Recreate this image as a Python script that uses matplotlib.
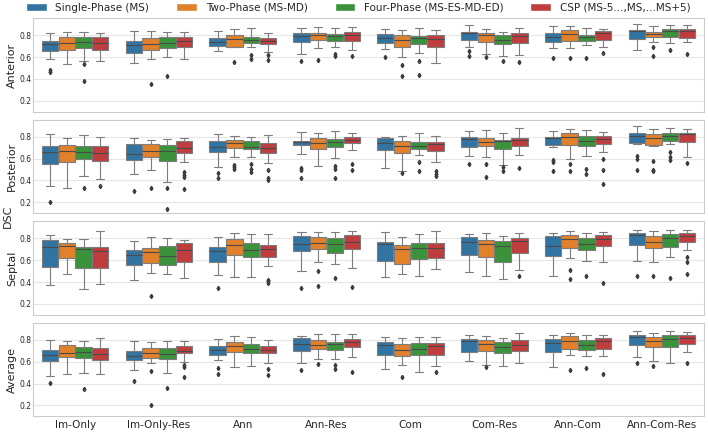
import matplotlib
matplotlib.use('Agg')
import matplotlib.pyplot as plt
import matplotlib.patches as mpatches
import seaborn as sns

categories = ['Im-Only', 'Im-Only-Res', 'Ann', 'Ann-Res', 'Com', 'Com-Res', 'Ann-Com', 'Ann-Com-Res']
hues = ['Single-Phase (MS)', 'Two-Phase (MS-MD)', 'Four-Phase (MS-ES-MD-ED)', 'CSP (MS-5...,MS,...MS+5)']
colors = ['#3274a1', '#e1812c', '#3a923a', '#c03d3e']
panels = ['Anterior', 'Posterior', 'Septal', 'Average']

# box stats per hue, per category: (whislo, q1, median, q3, whishi)
anterior_stats = [
    [(0.583, 0.657, 0.720, 0.749, 0.815), (0.547, 0.636, 0.708, 0.749, 0.839), (0.657, 0.705, 0.738, 0.770, 0.839), (0.630, 0.738, 0.791, 0.821, 0.868),
     (0.672, 0.729, 0.773, 0.812, 0.854), (0.696, 0.758, 0.818, 0.824, 0.889), (0.681, 0.741, 0.779, 0.815, 0.880), (0.663, 0.761, 0.839, 0.851, 0.904)],
    [(0.532, 0.666, 0.732, 0.779, 0.830), (0.583, 0.666, 0.723, 0.770, 0.839), (0.687, 0.693, 0.767, 0.797, 0.856), (0.678, 0.755, 0.803, 0.815, 0.877),
     (0.600, 0.696, 0.755, 0.797, 0.851), (0.630, 0.735, 0.797, 0.818, 0.860), (0.681, 0.749, 0.806, 0.848, 0.880), (0.738, 0.782, 0.809, 0.833, 0.880)],
    [(0.568, 0.684, 0.738, 0.779, 0.830), (0.600, 0.678, 0.729, 0.779, 0.824), (0.687, 0.726, 0.752, 0.785, 0.865), (0.693, 0.749, 0.794, 0.806, 0.865),
     (0.640, 0.717, 0.776, 0.794, 0.862), (0.613, 0.717, 0.758, 0.797, 0.830), (0.711, 0.749, 0.782, 0.800, 0.868), (0.726, 0.779, 0.839, 0.854, 0.895)],
    [(0.559, 0.666, 0.729, 0.779, 0.815), (0.583, 0.690, 0.744, 0.782, 0.827), (0.642, 0.720, 0.744, 0.770, 0.815), (0.666, 0.749, 0.803, 0.824, 0.877),
     (0.541, 0.696, 0.764, 0.803, 0.851), (0.622, 0.726, 0.794, 0.818, 0.868), (0.687, 0.758, 0.818, 0.836, 0.860), (0.735, 0.773, 0.836, 0.857, 0.895)],
]
anterior_fliers = [
    [[0.479, 0.461], [], [], [0.568], [0.598], [0.657, 0.607], [0.592], []],
    [[], [0.350], [0.556], [0.574], [0.523, 0.422], [0.598], [0.592], [0.690, 0.613]],
    [[0.538, 0.380], [0.431], [0.618, 0.583], [0.627, 0.607], [0.568, 0.440], [0.568], [0.595], [0.666]],
    [[], [], [0.618, 0.577], [0.607], [], [0.553], [0.637], [0.630]],
]

posterior_stats = [
    [(0.353, 0.551, 0.659, 0.719, 0.821), (0.458, 0.587, 0.641, 0.731, 0.785), (0.524, 0.659, 0.704, 0.764, 0.827), (0.641, 0.725, 0.749, 0.764, 0.839),
     (0.518, 0.677, 0.743, 0.785, 0.800), (0.623, 0.710, 0.776, 0.800, 0.854), (0.704, 0.728, 0.785, 0.794, 0.848), (0.737, 0.743, 0.803, 0.833, 0.893)],
    [(0.335, 0.569, 0.668, 0.728, 0.785), (0.494, 0.614, 0.668, 0.731, 0.767), (0.614, 0.695, 0.740, 0.767, 0.803), (0.530, 0.689, 0.743, 0.791, 0.836),
     (0.488, 0.653, 0.719, 0.764, 0.806), (0.614, 0.719, 0.755, 0.788, 0.857), (0.599, 0.728, 0.794, 0.836, 0.872), (0.719, 0.728, 0.785, 0.824, 0.866)],
    [(0.443, 0.599, 0.659, 0.719, 0.812), (0.389, 0.581, 0.668, 0.728, 0.776), (0.614, 0.683, 0.704, 0.758, 0.800), (0.602, 0.710, 0.749, 0.779, 0.848),
     (0.635, 0.689, 0.713, 0.749, 0.830), (0.545, 0.683, 0.761, 0.773, 0.830), (0.623, 0.719, 0.764, 0.803, 0.857), (0.734, 0.764, 0.806, 0.836, 0.875)],
    [(0.413, 0.575, 0.653, 0.713, 0.800), (0.569, 0.650, 0.695, 0.758, 0.791), (0.560, 0.650, 0.695, 0.743, 0.812), (0.680, 0.740, 0.767, 0.800, 0.836),
     (0.569, 0.665, 0.731, 0.752, 0.803), (0.635, 0.719, 0.767, 0.788, 0.875), (0.659, 0.731, 0.776, 0.803, 0.842), (0.614, 0.749, 0.827, 0.836, 0.866)],
]
posterior_fliers = [
    [[0.202], [0.307], [0.464, 0.419], [0.515, 0.494, 0.425], [], [0.548], [0.590, 0.569, 0.488], [0.623, 0.599, 0.500]],
    [[], [0.329], [0.539, 0.524, 0.503], [], [0.464], [0.548, 0.428], [0.554, 0.488], [0.575, 0.500, 0.488]],
    [[0.332], [0.329, 0.140], [0.554, 0.509, 0.479], [0.530, 0.503, 0.425], [0.569, 0.488], [0.524, 0.485], [0.509, 0.455], [0.659, 0.614, 0.584]],
    [[0.347], [0.473, 0.449, 0.434, 0.320], [0.494, 0.425, 0.404], [0.548, 0.500], [0.485, 0.461, 0.443], [0.512], [0.599, 0.494, 0.371], [0.563]],
]

septal_stats = [
    [(0.370, 0.537, 0.719, 0.782, 0.830), (0.418, 0.552, 0.651, 0.690, 0.779), (0.460, 0.585, 0.684, 0.719, 0.815), (0.499, 0.681, 0.746, 0.821, 0.854),
     (0.442, 0.594, 0.743, 0.770, 0.854), (0.496, 0.645, 0.764, 0.809, 0.839), (0.457, 0.639, 0.728, 0.821, 0.845), (0.594, 0.734, 0.830, 0.851, 0.878)],
    [(0.469, 0.615, 0.731, 0.761, 0.794), (0.478, 0.570, 0.675, 0.707, 0.815), (0.442, 0.648, 0.737, 0.791, 0.848), (0.582, 0.699, 0.755, 0.815, 0.860),
     (0.472, 0.561, 0.699, 0.740, 0.809), (0.457, 0.627, 0.743, 0.782, 0.851), (0.615, 0.710, 0.797, 0.830, 0.866), (0.585, 0.710, 0.770, 0.818, 0.866)],
    [(0.334, 0.528, 0.699, 0.722, 0.794), (0.469, 0.552, 0.639, 0.731, 0.800), (0.445, 0.630, 0.696, 0.758, 0.836), (0.561, 0.666, 0.746, 0.803, 0.860),
     (0.451, 0.609, 0.710, 0.758, 0.836), (0.424, 0.585, 0.731, 0.773, 0.818), (0.594, 0.693, 0.743, 0.800, 0.851), (0.627, 0.719, 0.803, 0.842, 0.878)],
    [(0.385, 0.528, 0.684, 0.722, 0.863), (0.436, 0.585, 0.693, 0.752, 0.788), (0.546, 0.633, 0.699, 0.740, 0.836), (0.531, 0.704, 0.770, 0.830, 0.863),
     (0.522, 0.615, 0.710, 0.755, 0.863), (0.513, 0.666, 0.773, 0.803, 0.851), (0.585, 0.725, 0.794, 0.830, 0.854), (0.690, 0.764, 0.821, 0.848, 0.872)],
]
septal_fliers = [
    [[], [], [0.349], [0.346], [], [], [], [0.451]],
    [[], [0.275], [], [0.499, 0.367], [], [], [0.507, 0.430], [0.457]],
    [[], [], [], [0.436], [], [], [0.451], [0.433]],
    [[], [], [0.421, 0.406, 0.388], [0.355], [], [0.451], [0.388], [0.630, 0.585, 0.475]],
]

average_stats = [
    [(0.466, 0.609, 0.657, 0.707, 0.797), (0.522, 0.615, 0.648, 0.699, 0.788), (0.615, 0.663, 0.707, 0.740, 0.806), (0.585, 0.701, 0.761, 0.812, 0.836),
     (0.537, 0.663, 0.755, 0.782, 0.824), (0.603, 0.687, 0.785, 0.809, 0.848), (0.549, 0.693, 0.767, 0.809, 0.842), (0.639, 0.749, 0.830, 0.842, 0.881)],
    [(0.484, 0.639, 0.678, 0.752, 0.791), (0.585, 0.630, 0.684, 0.722, 0.782), (0.555, 0.687, 0.746, 0.776, 0.836), (0.627, 0.716, 0.752, 0.797, 0.857),
     (0.567, 0.654, 0.707, 0.758, 0.818), (0.567, 0.701, 0.761, 0.794, 0.839), (0.660, 0.719, 0.791, 0.833, 0.863), (0.606, 0.737, 0.791, 0.827, 0.866)],
    [(0.499, 0.633, 0.687, 0.731, 0.791), (0.493, 0.627, 0.669, 0.722, 0.791), (0.564, 0.678, 0.713, 0.761, 0.827), (0.627, 0.707, 0.761, 0.782, 0.857),
     (0.507, 0.657, 0.716, 0.767, 0.827), (0.558, 0.681, 0.731, 0.782, 0.818), (0.648, 0.707, 0.755, 0.800, 0.848), (0.588, 0.731, 0.809, 0.848, 0.881)],
    [(0.490, 0.615, 0.672, 0.722, 0.812), (0.594, 0.678, 0.701, 0.740, 0.791), (0.591, 0.678, 0.707, 0.740, 0.797), (0.642, 0.731, 0.776, 0.809, 0.851),
     (0.558, 0.663, 0.740, 0.767, 0.827), (0.588, 0.701, 0.755, 0.800, 0.860), (0.648, 0.716, 0.791, 0.821, 0.842), (0.687, 0.758, 0.818, 0.848, 0.872)],
]
average_fliers = [
    [[0.403], [0.424], [0.543, 0.487], [0.522], [], [], [], [0.585]],
    [[], [0.513, 0.206], [], [0.582], [0.460], [0.552], [0.528], [0.564]],
    [[0.349], [0.361], [], [0.573, 0.534], [], [], [0.543], []],
    [[], [0.573, 0.552, 0.460], [0.531, 0.481], [0.507], [0.507], [], [0.484], [0.591]],
]

all_stats = [anterior_stats, posterior_stats, septal_stats, average_stats]
all_fliers = [anterior_fliers, posterior_fliers, septal_fliers, average_fliers]

sns.set_style('whitegrid')
plt.rcParams['font.family'] = ['DejaVu Sans']

fig, axes = plt.subplots(4, 1, figsize=(7.08, 4.32), dpi=100, sharex=True, sharey=True)
plt.subplots_adjust(left=0.047, right=0.994, top=0.958, bottom=0.036, hspace=0.085)

line_c = '#7d7d7d'
flier_c = '#3c3c3c'
offsets = [-0.3, -0.1, 0.1, 0.3]

for ax, name, stats, fliers in zip(axes, panels, all_stats, all_fliers):
    for h in range(4):
        bxp_stats = []
        for c in range(len(categories)):
            lo, q1, med, q3, hi = stats[h][c]
            bxp_stats.append({'whislo': lo, 'q1': q1, 'med': med, 'q3': q3,
                              'whishi': hi, 'fliers': fliers[h][c]})
        pos = [c + offsets[h] for c in range(len(categories))]
        ax.bxp(bxp_stats, positions=pos, widths=0.195, patch_artist=True,
               showfliers=True, manage_ticks=False,
               boxprops=dict(facecolor=colors[h], edgecolor=line_c, linewidth=0.8),
               medianprops=dict(color='#4a4a4a', linewidth=0.8),
               whiskerprops=dict(color=line_c, linewidth=0.8),
               capprops=dict(color=line_c, linewidth=0.8),
               flierprops=dict(marker='d', markersize=2.2, markerfacecolor=flier_c,
                               markeredgecolor=flier_c, linestyle='none'))
    ax.set_ylabel(name, fontsize=8, labelpad=2)
    ax.xaxis.grid(False)
    ax.yaxis.grid(True, color='#e6e6e6', linewidth=0.8)
    for sp in ax.spines.values():
        sp.set_color('#cccccc')
        sp.set_linewidth(0.8)
    ax.tick_params(axis='y', labelsize=5.5, pad=1, length=0)
    ax.tick_params(axis='x', labelsize=7.5, pad=0.5, length=2, color='#cccccc')

axes[0].set_ylim(0.1, 0.955)
axes[0].set_yticks([0.2, 0.4, 0.6, 0.8])
axes[0].set_xlim(-0.5, len(categories) - 0.5)
axes[-1].set_xticks(range(len(categories)))
axes[-1].set_xticklabels(categories)

fig.text(0.011, 0.5, 'DSC', rotation=90, va='center', ha='center', fontsize=8)

handles = [mpatches.Patch(facecolor=colors[i], label=hues[i]) for i in range(4)]
fig.legend(handles=handles, loc='upper center', bbox_to_anchor=(0.506, 1.008), ncol=4,
           frameon=False, fontsize=7.5, columnspacing=2.6, handlelength=2.0,
           handleheight=0.8, borderaxespad=0.2)

fig.savefig('out.png', dpi=100)
